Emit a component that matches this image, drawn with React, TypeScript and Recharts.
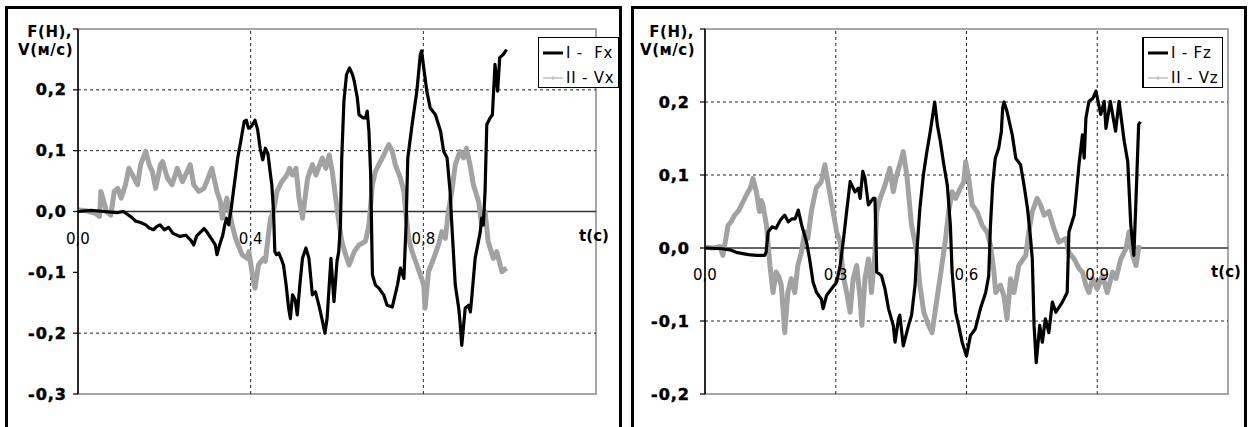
import React from 'react';
import { LineChart, Line, XAxis, YAxis, ReferenceLine, ReferenceArea, ReferenceDot, Legend } from 'recharts';

// ---------- Left panel: Fx (I) and Vx (II) ----------
const fxT = [0.000, 0.030, 0.060, 0.090, 0.105, 0.115, 0.125, 0.134, 0.145, 0.157, 0.165, 0.175, 0.182, 0.190, 0.200, 0.210, 0.220, 0.236, 0.250, 0.262, 0.268, 0.275, 0.285, 0.292, 0.300, 0.310, 0.318, 0.322, 0.328, 0.335, 0.340, 0.344, 0.349, 0.355, 0.360, 0.365, 0.370, 0.377, 0.385, 0.390, 0.395, 0.402, 0.410, 0.416, 0.422, 0.428, 0.434, 0.440, 0.446, 0.449, 0.453, 0.456, 0.460, 0.465, 0.472, 0.476, 0.482, 0.488, 0.492, 0.497, 0.503, 0.508, 0.514, 0.520, 0.528, 0.535, 0.543, 0.550, 0.558, 0.565, 0.572, 0.577, 0.582, 0.586, 0.593, 0.600, 0.604, 0.608, 0.611, 0.616, 0.622, 0.629, 0.636, 0.640, 0.647, 0.651, 0.660, 0.666, 0.670, 0.674, 0.678, 0.682, 0.689, 0.697, 0.708, 0.716, 0.728, 0.740, 0.747, 0.755, 0.760, 0.764, 0.774, 0.785, 0.793, 0.796, 0.801, 0.808, 0.816, 0.828, 0.840, 0.847, 0.855, 0.862, 0.866, 0.874, 0.882, 0.885, 0.889, 0.897, 0.905, 0.909, 0.912, 0.920, 0.932, 0.935, 0.939, 0.943, 0.947, 0.955, 0.960, 0.966, 0.972, 0.977, 0.985, 0.993];
const fxV = [0.000, 0.002, 0.000, -0.002, 0.000, -0.005, -0.010, -0.016, -0.018, -0.022, -0.027, -0.030, -0.025, -0.022, -0.030, -0.026, -0.036, -0.041, -0.039, -0.048, -0.055, -0.040, -0.033, -0.028, -0.035, -0.046, -0.055, -0.071, -0.055, -0.040, -0.022, -0.011, -0.022, 0.005, 0.033, 0.060, 0.088, 0.115, 0.148, 0.150, 0.137, 0.140, 0.150, 0.135, 0.104, 0.085, 0.104, 0.095, 0.060, 0.044, 0.000, -0.066, -0.071, -0.068, -0.080, -0.088, -0.120, -0.159, -0.176, -0.137, -0.145, -0.170, -0.120, -0.077, -0.060, -0.077, -0.137, -0.132, -0.154, -0.176, -0.200, -0.176, -0.121, -0.077, -0.148, -0.082, -0.066, -0.022, 0.088, 0.181, 0.225, 0.236, 0.225, 0.214, 0.187, 0.159, 0.154, 0.154, 0.165, 0.132, 0.060, -0.104, -0.121, -0.126, -0.137, -0.154, -0.157, -0.121, -0.093, -0.110, -0.022, 0.088, 0.143, 0.198, 0.258, 0.264, 0.236, 0.198, 0.170, 0.159, 0.132, 0.099, 0.088, 0.033, -0.022, -0.121, -0.159, -0.181, -0.220, -0.159, -0.154, -0.165, -0.143, -0.077, -0.033, -0.011, -0.022, 0.033, 0.143, 0.154, 0.159, 0.242, 0.198, 0.253, 0.258, 0.266];

const vxT = [0.000, 0.020, 0.040, 0.050, 0.053, 0.060, 0.066, 0.076, 0.084, 0.092, 0.100, 0.110, 0.118, 0.130, 0.138, 0.145, 0.157, 0.165, 0.172, 0.180, 0.191, 0.196, 0.207, 0.218, 0.230, 0.242, 0.260, 0.268, 0.280, 0.292, 0.310, 0.322, 0.330, 0.334, 0.345, 0.351, 0.357, 0.365, 0.380, 0.392, 0.396, 0.403, 0.410, 0.418, 0.430, 0.434, 0.442, 0.446, 0.453, 0.461, 0.472, 0.484, 0.490, 0.497, 0.505, 0.512, 0.520, 0.524, 0.532, 0.543, 0.551, 0.566, 0.574, 0.582, 0.589, 0.597, 0.603, 0.611, 0.620, 0.628, 0.640, 0.651, 0.666, 0.674, 0.682, 0.689, 0.705, 0.720, 0.728, 0.735, 0.747, 0.755, 0.759, 0.766, 0.774, 0.785, 0.793, 0.801, 0.804, 0.812, 0.824, 0.835, 0.843, 0.851, 0.858, 0.866, 0.874, 0.885, 0.893, 0.900, 0.908, 0.916, 0.928, 0.935, 0.943, 0.950, 0.962, 0.970, 0.982, 0.993];
const vxV = [0.003, 0.001, -0.003, -0.008, 0.033, 0.016, 0.000, -0.006, 0.033, 0.038, 0.022, 0.044, 0.071, 0.055, 0.044, 0.077, 0.099, 0.077, 0.066, 0.038, 0.077, 0.082, 0.055, 0.044, 0.071, 0.049, 0.077, 0.044, 0.033, 0.038, 0.071, 0.033, 0.016, -0.011, 0.022, 0.000, -0.022, -0.044, -0.071, -0.077, -0.066, -0.099, -0.126, -0.088, -0.077, -0.082, -0.033, -0.011, 0.000, 0.033, 0.049, 0.060, 0.071, 0.060, 0.071, 0.022, -0.011, 0.011, 0.055, 0.077, 0.060, 0.088, 0.071, 0.093, 0.066, 0.022, -0.011, -0.049, -0.071, -0.088, -0.066, -0.055, -0.049, -0.022, 0.044, 0.066, 0.088, 0.110, 0.099, 0.077, 0.055, 0.033, 0.000, -0.044, -0.066, -0.088, -0.104, -0.121, -0.159, -0.099, -0.077, -0.055, -0.033, -0.044, 0.000, 0.033, 0.077, 0.099, 0.088, 0.104, 0.077, 0.044, 0.016, -0.022, 0.000, -0.049, -0.077, -0.066, -0.099, -0.093];

// ---------- Right panel: Fz (I) and Vz (II) ----------
const fzT = [0.000, 0.040, 0.060, 0.072, 0.090, 0.100, 0.118, 0.137, 0.140, 0.145, 0.154, 0.163, 0.170, 0.175, 0.183, 0.191, 0.200, 0.207, 0.214, 0.222, 0.233, 0.240, 0.248, 0.256, 0.267, 0.271, 0.279, 0.290, 0.302, 0.310, 0.317, 0.325, 0.333, 0.344, 0.352, 0.356, 0.362, 0.367, 0.371, 0.375, 0.386, 0.390, 0.394, 0.405, 0.413, 0.421, 0.432, 0.436, 0.444, 0.447, 0.455, 0.467, 0.474, 0.482, 0.486, 0.493, 0.501, 0.509, 0.517, 0.525, 0.527, 0.533, 0.540, 0.548, 0.556, 0.563, 0.567, 0.575, 0.582, 0.590, 0.600, 0.609, 0.620, 0.632, 0.644, 0.651, 0.655, 0.660, 0.666, 0.674, 0.680, 0.683, 0.686, 0.693, 0.705, 0.713, 0.724, 0.732, 0.740, 0.747, 0.751, 0.755, 0.760, 0.768, 0.774, 0.781, 0.789, 0.797, 0.805, 0.820, 0.831, 0.835, 0.847, 0.851, 0.858, 0.866, 0.870, 0.874, 0.881, 0.890, 0.897, 0.908, 0.916, 0.920, 0.930, 0.942, 0.950, 0.962, 0.970, 0.977, 0.984, 0.989, 0.995, 0.999];
const fzV = [0.000, -0.001, -0.003, -0.006, -0.008, -0.009, -0.010, -0.010, -0.006, 0.022, 0.029, 0.027, 0.035, 0.040, 0.045, 0.036, 0.040, 0.040, 0.052, 0.031, 0.008, -0.015, -0.047, -0.061, -0.070, -0.083, -0.065, -0.056, -0.047, -0.024, 0.008, 0.050, 0.091, 0.077, 0.082, 0.068, 0.105, 0.096, 0.077, 0.059, 0.068, 0.068, -0.033, -0.038, -0.056, -0.083, -0.106, -0.129, -0.097, -0.092, -0.134, -0.106, -0.092, -0.051, -0.006, 0.054, 0.100, 0.132, 0.160, 0.192, 0.200, 0.169, 0.146, 0.114, 0.086, 0.031, -0.033, -0.088, -0.106, -0.129, -0.148, -0.120, -0.111, -0.083, -0.061, -0.038, 0.031, 0.086, 0.123, 0.137, 0.160, 0.192, 0.200, 0.187, 0.155, 0.123, 0.114, 0.086, 0.054, 0.013, -0.015, -0.106, -0.157, -0.106, -0.129, -0.097, -0.116, -0.074, -0.088, -0.074, -0.061, 0.022, 0.045, 0.068, 0.114, 0.155, 0.123, 0.178, 0.201, 0.205, 0.215, 0.183, 0.201, 0.164, 0.201, 0.160, 0.201, 0.146, 0.118, 0.031, -0.010, 0.068, 0.169, 0.173];

const vzT = [0.000, 0.020, 0.035, 0.041, 0.047, 0.053, 0.060, 0.068, 0.078, 0.087, 0.097, 0.104, 0.110, 0.118, 0.125, 0.129, 0.133, 0.141, 0.149, 0.156, 0.163, 0.170, 0.175, 0.179, 0.183, 0.190, 0.198, 0.206, 0.213, 0.221, 0.229, 0.236, 0.244, 0.255, 0.267, 0.275, 0.283, 0.294, 0.302, 0.310, 0.317, 0.325, 0.333, 0.340, 0.348, 0.356, 0.360, 0.367, 0.375, 0.382, 0.390, 0.394, 0.402, 0.413, 0.424, 0.432, 0.440, 0.451, 0.455, 0.463, 0.474, 0.486, 0.493, 0.502, 0.513, 0.521, 0.529, 0.540, 0.551, 0.559, 0.567, 0.575, 0.586, 0.594, 0.598, 0.605, 0.613, 0.624, 0.636, 0.647, 0.655, 0.663, 0.667, 0.678, 0.686, 0.693, 0.701, 0.709, 0.720, 0.736, 0.743, 0.751, 0.762, 0.770, 0.778, 0.789, 0.801, 0.812, 0.828, 0.835, 0.847, 0.858, 0.866, 0.874, 0.881, 0.889, 0.900, 0.912, 0.923, 0.935, 0.943, 0.954, 0.966, 0.973, 0.981, 0.989, 0.996];
const vzV = [0.001, 0.000, 0.002, -0.010, 0.010, 0.031, 0.036, 0.045, 0.052, 0.063, 0.075, 0.082, 0.095, 0.077, 0.050, 0.065, 0.059, 0.031, -0.024, -0.061, -0.033, -0.040, -0.051, -0.083, -0.116, -0.061, -0.042, -0.061, -0.024, -0.006, 0.022, 0.013, 0.050, 0.082, 0.091, 0.114, 0.086, 0.050, 0.022, 0.008, -0.038, -0.061, -0.088, -0.042, -0.024, -0.070, -0.106, -0.042, -0.015, -0.061, -0.006, 0.050, 0.068, 0.086, 0.109, 0.077, 0.100, 0.123, 0.132, 0.100, 0.031, -0.006, -0.051, -0.088, -0.106, -0.116, -0.083, -0.038, 0.008, 0.050, 0.077, 0.068, 0.082, 0.091, 0.118, 0.095, 0.059, 0.050, 0.031, 0.022, 0.004, -0.033, -0.061, -0.051, -0.066, -0.097, -0.042, -0.061, -0.024, -0.010, 0.022, 0.050, 0.068, 0.059, 0.045, 0.050, 0.026, 0.008, 0.013, -0.006, -0.015, -0.028, -0.033, -0.051, -0.061, -0.042, -0.056, -0.038, -0.061, -0.033, -0.042, -0.015, -0.001, 0.022, -0.010, -0.024, 0.004];

// ---------- Axes, ticks, labels ----------
const xDomain = [0, 1.2];
const leftYDomain = [-0.3, 0.3];
const leftYTicks = [-0.3, -0.2, -0.1, 0, 0.1, 0.2, 0.3];
const leftYLabels = ['-0,3', '-0,2', '-0,1', '0,0', '0,1', '0,2', ''];
const leftXTicks = [0, 0.4, 0.8];
const leftXLabels = ['0,0', '0,4', '0,8'];
const leftHGrid = [0.2, 0.1, -0.2];
const leftVGrid = [0.4, 0.8];
const leftNames = ['I -  Fx', 'II - Vx'];

const rightYDomain = [-0.2, 0.3];
const rightYTicks = [-0.2, -0.1, 0, 0.1, 0.2, 0.3];
const rightYLabels = ['-0,2', '-0,1', '0,0', '0,1', '0,2', ''];
const rightXTicks = [0, 0.3, 0.6, 0.9];
const rightXLabels = ['0,0', '0,3', '0,6', '0,9'];
const rightHGrid = [0.2, 0.1, -0.1];
const rightVGrid = [0.3, 0.6, 0.9];
const rightNames = ['I - Fz', 'II - Vz'];

const yTitleLines = ['F(Н),', 'V(м/с)'];
const xTitle = 't(с)';

const toPoints = (ts: number[], vs: number[]) => ts.map((t, i) => ({ t, v: vs[i] }));

const FONT = '"DejaVu Sans", Verdana, sans-serif';

const makeYTick = (ticks: number[], labels: string[]) => (props: any) => {
  const { x, y, payload } = props;
  const idx = ticks.findIndex((t) => Math.abs(t - payload.value) < 1e-9);
  const label = idx >= 0 ? labels[idx] : '';
  if (!label) return null;
  return (
    <text x={x} y={y} textAnchor="end" dominantBaseline="central" fontFamily={FONT} fontWeight="bold" fontSize={16} fill="#000" stroke="#000" strokeWidth={0.5} style={{ letterSpacing: '1px' }}>
      {label}
    </text>
  );
};

const PointText = (props: any) => {
  const { viewBox, text, dx = 0, dy = 0, anchor = 'middle', bold = false, size = 15, spacing = 0 } = props;
  if (!viewBox) return null;
  const cx = viewBox.x + (viewBox.width || 0) / 2 + dx;
  const cy = viewBox.y + (viewBox.height || 0) / 2 + dy;
  return (
    <text x={cx} y={cy} textAnchor={anchor} dominantBaseline="central" fontFamily={FONT} fontWeight={bold ? 'bold' : 'normal'} fontSize={size} fill="#000" style={{ letterSpacing: `${spacing}px` }}>
      {text}
    </text>
  );
};

const TitleText = (props: any) => {
  const { viewBox, dx = 0 } = props;
  if (!viewBox) return null;
  const cx = viewBox.x + (viewBox.width || 0) / 2 + dx;
  const cy = viewBox.y + (viewBox.height || 0) / 2;
  return (
    <g>
      <text x={cx} y={cy + 3} textAnchor="end" dominantBaseline="central" fontFamily={FONT} fontWeight="bold" fontSize={15} fill="#000" style={{ letterSpacing: '0.5px' }}>{yTitleLines[0]}</text>
      <text x={cx + 1} y={cy + 21} textAnchor="end" dominantBaseline="central" fontFamily={FONT} fontWeight="bold" fontSize={15} fill="#000" style={{ letterSpacing: '0.5px' }}>{yTitleLines[1]}</text>
    </g>
  );
};

const makeLegend = (names: string[], thickLeft: boolean) => (props: any) => {
  const payload = (props.payload || []).slice().sort((a: any, b: any) => names.indexOf(a.value) - names.indexOf(b.value));
  return (
    <div style={{ width: 81, height: 51, boxSizing: 'border-box', border: '1px solid #000', borderLeftWidth: thickLeft ? 2 : 1, background: '#fff', fontFamily: FONT, fontSize: 15, color: '#000', paddingTop: 2 }}>
      {payload.map((p: any, i: number) => (
        <div key={i} style={{ height: 25, display: 'flex', alignItems: 'center', paddingLeft: 4, whiteSpace: 'pre', letterSpacing: '0.8px' }}>
          <svg width={21} height={10} style={{ marginRight: 2 }}>
            {i === 0 ? (
              <line x1={0} y1={5} x2={20} y2={5} stroke={p.color} strokeWidth={3} />
            ) : (
              <g>
                <line x1={0} y1={5} x2={20} y2={5} stroke="#b0b0b0" strokeWidth={1.2} />
                <line x1={10} y1={3} x2={10} y2={7} stroke="#b0b0b0" strokeWidth={1} />
              </g>
            )}
          </svg>
          <span>{p.value}</span>
        </div>
      ))}
    </div>
  );
};

type PanelProps = {
  left: number;
  width: number;
  yAxisWidth: number;
  marginRight: number;
  yDomain: number[];
  yTicks: number[];
  yLabels: string[];
  xTicks: number[];
  xLabels: string[];
  hGrid: number[];
  vGrid: number[];
  fData: { t: number; v: number }[];
  vData: { t: number; v: number }[];
  names: string[];
  tickMargin: number;
  legendLeft: number;
  titleDx: number;
  thickLegendLeft: boolean;
};

const Panel = (p: PanelProps) => (
  <div style={{ position: 'absolute', left: p.left, top: 0 }}>
    <LineChart width={p.width} height={427} margin={{ top: 29, right: p.marginRight, bottom: 33, left: 0 }}>
      <XAxis type="number" dataKey="t" domain={xDomain} hide allowDataOverflow />
      <YAxis
        type="number"
        domain={p.yDomain}
        ticks={p.yTicks}
        interval={0}
        width={p.yAxisWidth}
        allowDataOverflow
        axisLine={{ stroke: '#000', strokeWidth: 1.5 }}
        tickLine={{ stroke: '#000', strokeWidth: 1.2 }}
        tickSize={5}
        tickMargin={p.tickMargin}
        tick={makeYTick(p.yTicks, p.yLabels)}
      />
      <ReferenceArea x1={xDomain[0]} x2={xDomain[1]} y1={p.yDomain[0]} y2={p.yDomain[1]} fill="none" fillOpacity={0} stroke="#8a8a8a" strokeWidth={1.5} ifOverflow="visible" />
      {p.hGrid.map((v) => (
        <ReferenceLine key={`h${v}`} y={v} stroke="#222" strokeWidth={1} strokeDasharray="3 3" />
      ))}
      {p.vGrid.map((v) => (
        <ReferenceLine key={`v${v}`} x={v} stroke="#222" strokeWidth={1} strokeDasharray="3 3" />
      ))}
      <ReferenceLine y={0} stroke="#333" strokeWidth={1.3} />
      <Line data={p.vData} dataKey="v" name={p.names[1]} type="linear" stroke="#a2a2a2" strokeWidth={5} strokeLinejoin="round" dot={false} activeDot={false} isAnimationActive={false} />
      <Line data={p.fData} dataKey="v" name={p.names[0]} type="linear" stroke="#000" strokeWidth={3.2} strokeLinejoin="round" dot={false} activeDot={false} isAnimationActive={false} />
      {p.xTicks.map((t, i) => (
        <ReferenceDot key={`xl${t}`} x={t} y={0} r={2} fill="none" stroke="none" ifOverflow="visible" label={<PointText text={p.xLabels[i]} dy={27} size={15} />} />
      ))}
      <ReferenceDot x={xDomain[1]} y={0} r={2} fill="none" stroke="none" ifOverflow="visible" label={<PointText text={xTitle} dy={24} dx={-2} bold size={15} />} />
      <ReferenceDot x={xDomain[0]} y={p.yDomain[1]} r={2} fill="none" stroke="none" ifOverflow="visible" label={<TitleText dx={p.titleDx} />} />
      <Legend layout="vertical" align="center" verticalAlign="middle" wrapperStyle={{ position: 'absolute', left: p.legendLeft, top: 37, width: 81, height: 51 }} content={makeLegend(p.names, p.thickLegendLeft)} />
    </LineChart>
  </div>
);

export default function App() {
  return (
    <div style={{ position: 'absolute', left: 0, top: 0, width: 1252, height: 427, overflow: 'hidden', background: '#fff' }}>
      <div style={{ position: 'absolute', left: 5, top: 6, width: 617, height: 460, border: '3px solid #000', boxSizing: 'border-box' }} />
      <div style={{ position: 'absolute', left: 631, top: 6, width: 616, height: 460, border: '3px solid #000', boxSizing: 'border-box' }} />
      <Panel
        left={0}
        width={626}
        yAxisWidth={78}
        marginRight={30}
        yDomain={leftYDomain}
        yTicks={leftYTicks}
        yLabels={leftYLabels}
        xTicks={leftXTicks}
        xLabels={leftXLabels}
        hGrid={leftHGrid}
        vGrid={leftVGrid}
        fData={toPoints(fxT, fxV)}
        vData={toPoints(vxT, vxV)}
        names={leftNames}
        tickMargin={6}
        legendLeft={538}
        titleDx={-6}
        thickLegendLeft={false}
      />
      <Panel
        left={626}
        width={626}
        yAxisWidth={79}
        marginRight={24}
        yDomain={rightYDomain}
        yTicks={rightYTicks}
        yLabels={rightYLabels}
        xTicks={rightXTicks}
        xLabels={rightXLabels}
        hGrid={rightHGrid}
        vGrid={rightVGrid}
        fData={toPoints(fzT, fzV)}
        vData={toPoints(vzT, vzV)}
        names={rightNames}
        tickMargin={10}
        legendLeft={516}
        titleDx={-11}
        thickLegendLeft={true}
      />
    </div>
  );
}
